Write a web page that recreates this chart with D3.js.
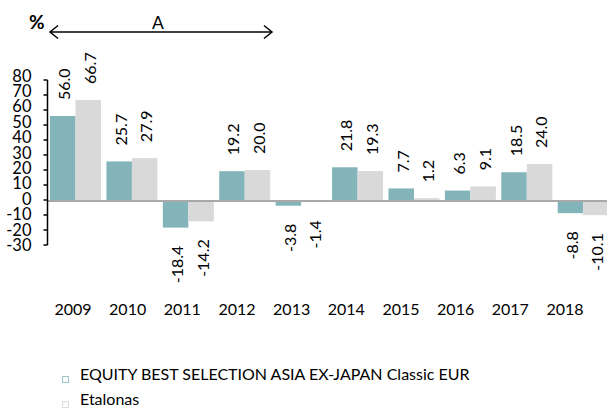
<!DOCTYPE html>
<html>
<head>
<meta charset="utf-8">
<script src="https://cdn.jsdelivr.net/npm/d3@7"></script>
<style>
  html, body { margin: 0; padding: 0; background: #fff; }
  svg { display: block; font-family: Lato, "Open Sans", sans-serif; }
</style>
</head>
<body>
<svg id="chart" width="607" height="408"></svg>
<script>
const years = ["2009","2010","2011","2012","2013","2014","2015","2016","2017","2018"];
const fundValues = [56.0, 25.7, -18.4, 19.2, -3.8, 21.8, 7.7, 6.3, 18.5, -8.8];
const benchValues = [66.7, 27.9, -14.2, 20.0, -1.4, 19.3, 1.2, 9.1, 24.0, -10.1];
const seriesNames = ["EQUITY BEST SELECTION ASIA EX-JAPAN Classic EUR", "Etalonas"];
const yTicks = [80, 70, 60, 50, 40, 30, 20, 10, 0, -10, -20, -30];
const periodLabel = "A";
const unitLabel = "%";

const colors = ["#83b4ba", "#d9d9d9"];
const legendStroke = ["#9cc4c9", "#dedede"];

const svg = d3.select("#chart");

const x = d3.scaleBand().domain(years).range([47.3, 611.4]).paddingInner(0.096).paddingOuter(0.048);
const xSub = d3.scaleBand().domain([0, 1]).range([0, x.bandwidth()]);
const xLabel = d3.scalePoint().domain(years).range([73, 565]);
const y = d3.scaleLinear().domain([-30, 80]).range([245, 80]);
const yLab = d3.scaleLinear().domain([-30, 80]).range([245, 75.5]);

const data = years.map((yr, i) => ({ year: yr, vals: [fundValues[i], benchValues[i]] }));

// bars
const groups = svg.append("g").selectAll("g").data(data).join("g")
  .attr("transform", d => `translate(${x(d.year)},0)`);

groups.selectAll("rect").data(d => d.vals.map((v, k) => ({ v, k }))).join("rect")
  .attr("x", d => xSub(d.k))
  .attr("width", xSub.bandwidth())
  .attr("y", d => y(Math.max(0, d.v)))
  .attr("height", d => Math.abs(y(d.v) - y(0)))
  .attr("fill", d => colors[d.k]);

// value labels
groups.selectAll("text").data(d => d.vals.map((v, k) => ({ v, k }))).join("text")
  .attr("transform", d => {
    const cx = xSub(d.k) + xSub.bandwidth() / 2 + 1;
    const cy = d.v >= 0 ? y(d.v) - 16 : y(d.v) + 18;
    return `translate(${cx},${cy}) rotate(-90)`;
  })
  .attr("text-anchor", d => d.v >= 0 ? "start" : "end")
  .attr("dominant-baseline", "central")
  .attr("font-size", 16)
  .attr("fill", "#000")
  .text(d => d.v.toFixed(1));

// zero line
svg.append("line")
  .attr("x1", 47).attr("x2", 607)
  .attr("y1", y(0) + 1).attr("y2", y(0) + 1)
  .attr("stroke", "#a9a9a9").attr("stroke-width", 2);

// y axis
const yAxis = svg.append("g").attr("transform", "translate(47.5,0)");
yAxis.append("line").attr("x1", 0).attr("x2", 0).attr("y1", y(80)).attr("y2", y(-30))
  .attr("stroke", "#000").attr("stroke-width", 1.5);
yAxis.selectAll("line.tick").data(yTicks).join("line").attr("class", "tick")
  .attr("x1", -4).attr("x2", 0)
  .attr("y1", d => y(d)).attr("y2", d => y(d))
  .attr("stroke", "#000").attr("stroke-width", 1.5);
yAxis.selectAll("text").data(yTicks).join("text")
  .attr("x", -16)
  .attr("y", d => yLab(d))
  .attr("text-anchor", "end")
  .attr("dominant-baseline", "central")
  .attr("font-size", 16.5)
  .attr("fill", "#000")
  .text(d => d);

// x labels
svg.append("g").selectAll("text").data(years).join("text")
  .attr("x", d => xLabel(d))
  .attr("y", 315)
  .attr("text-anchor", "middle")
  .attr("font-size", 16)
  .attr("fill", "#000")
  .text(d => d);

// period arrow
const arrowY = 32;
svg.append("line").attr("x1", 50).attr("x2", 272).attr("y1", arrowY).attr("y2", arrowY)
  .attr("stroke", "#000").attr("stroke-width", 1.5);
svg.append("path")
  .attr("d", `M58,${arrowY - 6.5} L50,${arrowY} L58,${arrowY + 6.5} M264,${arrowY - 6.5} L272,${arrowY} L264,${arrowY + 6.5}`)
  .attr("fill", "none").attr("stroke", "#000").attr("stroke-width", 1.5);
svg.append("text").attr("x", 158).attr("y", 29).attr("text-anchor", "middle")
  .attr("font-size", 17.5).attr("fill", "#000").text(periodLabel);
svg.append("text").attr("x", 29).attr("y", 29)
  .attr("font-size", 19).attr("font-weight", "bold").attr("fill", "#000").text(unitLabel);

// legend
const legend = svg.append("g").selectAll("g").data(seriesNames).join("g")
  .attr("transform", (d, i) => `translate(0,${i * 25})`);
legend.append("rect").attr("x", 62.5).attr("y", 376.5).attr("width", 6).attr("height", 6)
  .attr("fill", "#fbfdfd").attr("stroke", (d, i) => legendStroke[i]).attr("stroke-width", 1);
legend.append("text").attr("x", 80).attr("y", 380)
  .attr("font-size", 16).attr("fill", "#000").text(d => d);
</script>
</body>
</html>
